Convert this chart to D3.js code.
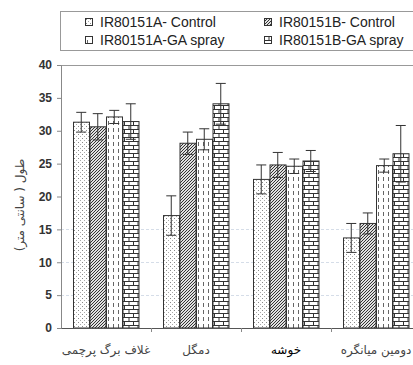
<!DOCTYPE html>
<html>
<head>
<meta charset="utf-8">
<script src="https://cdn.jsdelivr.net/npm/d3@7"></script>
<style>
  body { margin: 0; background: #fff; overflow: hidden; }
  text { font-family: "Liberation Sans", Arial, sans-serif; }
</style>
</head>
<body>
<svg width="413" height="365"></svg>
<script>
// data
let categories = ["غلاف برگ پرچمی", "دمگل", "خوشه", "دومین میانگره"];
let seriesNames = ["IR80151A- Control", "IR80151B- Control", "IR80151A-GA spray", "IR80151B-GA spray"];
let seriesA_ctrl = [31.3, 17.1, 22.6, 13.7];
let seriesB_ctrl = [30.6, 28.1, 24.8, 15.9];
let seriesA_ga = [32.1, 28.7, 24.6, 24.7];
let seriesB_ga = [31.4, 34.1, 25.4, 26.5];
let errA_ctrl = [1.5, 3.0, 2.2, 2.2];
let errB_ctrl = [2.0, 1.7, 1.9, 1.6];
let errA_ga = [1.0, 1.6, 1.1, 1.0];
let errB_ga = [2.7, 3.1, 1.6, 4.3];
let yTicks = [0, 5, 10, 15, 20, 25, 30, 35, 40];
let gridTicks = [5, 10, 15];
let yLabel = "طول ( سانتی متر)";

let values = [seriesA_ctrl, seriesB_ctrl, seriesA_ga, seriesB_ga];
let errors = [errA_ctrl, errB_ctrl, errA_ga, errB_ga];
let patternIds = ["pDots", "pDiag", "pDash", "pBrick"];

let rows = [];
categories.forEach((c, ci) => {
    seriesNames.forEach((s, si) => {
        rows.push({ cat: c, series: s, si: si, value: values[si][ci], err: errors[si][ci] });
    });
});

let svg = d3.select("svg");
let margin = { left: 61, top: 65 };
let width = 360, height = 263;

// patterns
let defs = svg.append("defs");
let p1 = defs.append("pattern").attr("id", "pDots").attr("patternUnits", "userSpaceOnUse")
    .attr("width", 4).attr("height", 4);
p1.append("rect").attr("width", 4).attr("height", 4).attr("fill", "#fff");
p1.append("rect").attr("x", 1).attr("y", 1).attr("width", 1).attr("height", 1).attr("fill", "#888");
p1.append("rect").attr("x", 3).attr("y", 3).attr("width", 1).attr("height", 1).attr("fill", "#aaa");

let p2 = defs.append("pattern").attr("id", "pDiag").attr("patternUnits", "userSpaceOnUse")
    .attr("width", 3).attr("height", 3);
p2.append("rect").attr("width", 3).attr("height", 3).attr("fill", "#e0e0e0");
p2.append("path").attr("d", "M-1,1 L1,-1 M0,3 L3,0 M2,4 L4,2")
    .attr("stroke", "#333").attr("stroke-width", 1);

let p3 = defs.append("pattern").attr("id", "pDash").attr("patternUnits", "userSpaceOnUse")
    .attr("width", 5).attr("height", 7);
p3.append("rect").attr("width", 5).attr("height", 7).attr("fill", "#fff");
p3.append("line").attr("x1", 2.5).attr("x2", 2.5).attr("y1", 0).attr("y2", 4)
    .attr("stroke", "#666").attr("stroke-width", 1);

let p4 = defs.append("pattern").attr("id", "pBrick").attr("patternUnits", "userSpaceOnUse")
    .attr("width", 9).attr("height", 8);
p4.append("rect").attr("width", 9).attr("height", 8).attr("fill", "#fff");
p4.append("path").attr("d", "M0,0.5 H9 M0,4.5 H9 M0.5,0.5 V4.5 M5,4.5 V8.5")
    .attr("stroke", "#333").attr("stroke-width", 1).attr("fill", "none");

// legend
let legend = svg.append("g");
legend.append("rect").attr("x", 60.5).attr("y", 11.5).attr("width", 370).attr("height", 39)
    .attr("fill", "#fff").attr("stroke", "#999");
let legPos = [[85, 22], [264, 22], [85, 40], [264, 40]];
seriesNames.forEach((s, i) => {
    let lg = legend.append("g").attr("transform", "translate(" + legPos[i][0] + "," + legPos[i][1] + ")");
    lg.append("rect").attr("x", 0.5).attr("y", -3.5).attr("width", 7).attr("height", 7)
        .attr("fill", "url(#" + patternIds[i] + ")").attr("stroke", "#333");
    lg.append("text").attr("x", 15).attr("y", 5).style("font-size", "14px").attr("fill", "#222")
        .text(s);
});

let g = svg.append("g").attr("transform", "translate(" + margin.left + "," + margin.top + ")");

let x0 = d3.scaleBand().domain(categories).range([0, width]);
let x1 = d3.scaleBand().domain(seriesNames).range([12, 78]);
let y = d3.scaleLinear().domain([0, 40]).range([height, 0]);

// faint grid
g.selectAll(".grid").data(gridTicks).enter().append("line")
    .attr("class", "grid")
    .attr("x1", 0).attr("x2", width)
    .attr("y1", d => Math.round(y(d)) + 0.5).attr("y2", d => Math.round(y(d)) + 0.5)
    .attr("stroke", "#d5dde8").attr("stroke-dasharray", "3,2");

// top frame
g.append("line").attr("x1", 0).attr("x2", width).attr("y1", 0.5).attr("y2", 0.5).attr("stroke", "#999");

// y axis
let yAxis = d3.axisLeft(y).tickValues(yTicks).tickSize(4).tickPadding(5);
let ya = g.append("g").attr("class", "y-axis").call(yAxis);
ya.select(".domain").attr("stroke", "#888");
ya.selectAll(".tick line").attr("stroke", "#888");
ya.selectAll("text").style("font-size", "12px").style("font-weight", "bold")
    .style("font-family", "'Liberation Sans', Arial, sans-serif").attr("fill", "#333");

// bars
g.selectAll(".bar").data(rows).enter().append("rect")
    .attr("class", "bar")
    .attr("x", d => x0(d.cat) + x1(d.series) + 0.5)
    .attr("y", d => y(d.value))
    .attr("width", x1.bandwidth() - 0.5)
    .attr("height", d => height - y(d.value))
    .attr("fill", d => "url(#" + patternIds[d.si] + ")")
    .attr("stroke", "#333").attr("stroke-width", 1);

// error bars
let eb = g.selectAll(".err").data(rows).enter().append("g").attr("class", "err")
    .attr("transform", d => "translate(" + (x0(d.cat) + x1(d.series) + x1.bandwidth() / 2) + ",0)");
eb.append("line").attr("x1", 0).attr("x2", 0)
    .attr("y1", d => y(d.value + d.err)).attr("y2", d => y(d.value - d.err))
    .attr("stroke", "#333");
eb.append("line").attr("x1", -5).attr("x2", 5)
    .attr("y1", d => y(d.value + d.err)).attr("y2", d => y(d.value + d.err))
    .attr("stroke", "#333");
eb.append("line").attr("x1", -5).attr("x2", 5)
    .attr("y1", d => y(d.value - d.err)).attr("y2", d => y(d.value - d.err))
    .attr("stroke", "#333");

// x axis
let xAxis = d3.axisBottom(x0).tickSize(0).tickFormat("");
let xa = g.append("g").attr("class", "x-axis").attr("transform", "translate(0," + height + ")").call(xAxis);
xa.select(".domain").attr("stroke", "#555");
// boundary ticks
g.selectAll(".xtick").data(categories.slice(1)).enter().append("line")
    .attr("x1", d => x0(d) + 0.5).attr("x2", d => x0(d) + 0.5)
    .attr("y1", height).attr("y2", height + 4).attr("stroke", "#888");

// category labels
g.selectAll(".catlab").data(categories).enter().append("text")
    .attr("class", "catlab")
    .attr("x", d => x0(d) + x0.bandwidth() / 2)
    .attr("y", height + 26)
    .attr("text-anchor", "middle")
    .attr("direction", "rtl")
    .style("font-family", "'DejaVu Sans', sans-serif")
    .style("font-size", "12px")
    .attr("fill", (d, i) => i == 2 ? "#000" : "#444")
    .text(d => d);

// y label
svg.append("text")
    .attr("transform", "translate(24,205) rotate(-90)")
    .attr("text-anchor", "middle")
    .attr("direction", "rtl")
    .style("font-family", "'DejaVu Sans', sans-serif")
    .style("font-size", "12px")
    .attr("fill", "#444")
    .text(yLabel);
</script>
</body>
</html>
